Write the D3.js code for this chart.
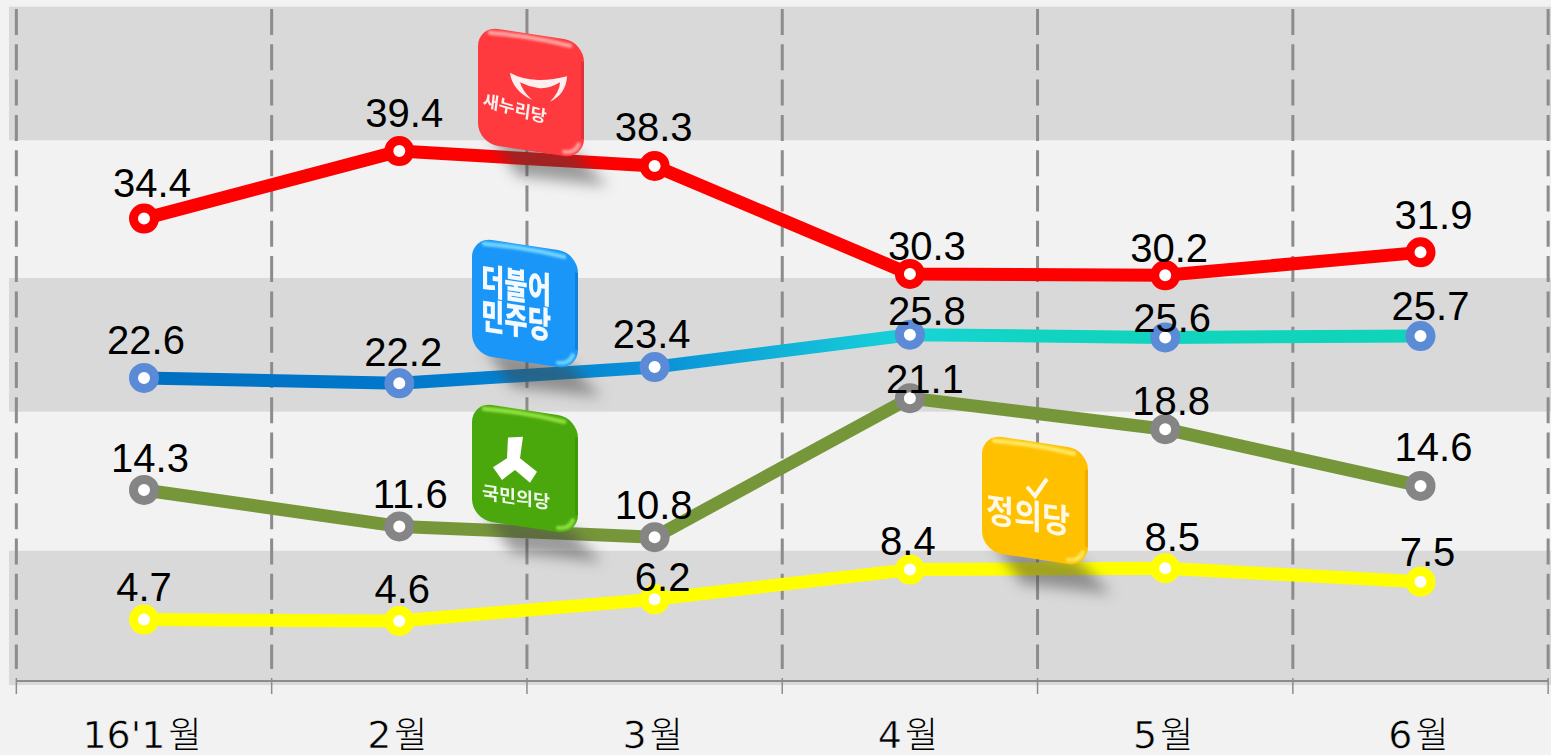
<!DOCTYPE html>
<html><head><meta charset="utf-8">
<script src="https://cdn.jsdelivr.net/npm/d3@7"></script>
<style>html,body{margin:0;padding:0;background:#f2f2f2;overflow:hidden}svg{display:block}</style></head>
<body><div id="c"></div>
<script>
const months = ["16'1","2","3","4","5","6"];
const saenuri = [34.4,39.4,38.3,30.3,30.2,31.9];
const minju = [22.6,22.2,23.4,25.8,25.6,25.7];
const kukmin = [14.3,11.6,10.8,21.1,18.8,14.6];
const jeongui = [4.7,4.6,6.2,8.4,8.5,7.5];
const bandEdges = [50.1,40.2,30,20.1,9.8,-0.15];
const W=1551,H=755;
const svg=d3.select("#c").append("svg").attr("width",W).attr("height",H);
const x=d3.scalePoint().domain(months).range([144,1420.5]);
const step=x.step();
const y=d3.scaleLinear().domain([0,50]).range([683,8]);
const defs=svg.append("defs");
const f=defs.append("filter").attr("id","blur").attr("filterUnits","userSpaceOnUse").attr("x",0).attr("y",0).attr("width",W).attr("height",H);
f.append("feGaussianBlur").attr("stdDeviation",7);
const f2=defs.append("filter").attr("id","soft").attr("filterUnits","userSpaceOnUse").attr("x",-50).attr("y",-50).attr("width",300).attr("height",300);
f2.append("feGaussianBlur").attr("stdDeviation",1);
const g1=defs.append("linearGradient").attr("id","mj").attr("gradientUnits","userSpaceOnUse")
 .attr("x1",x(months[0])).attr("x2",x(months[5])).attr("y1",0).attr("y2",0);
[[0,"#0070c0"],[0.2,"#0078cc"],[0.4,"#0a90d8"],[0.6,"#18d4d8"],[0.7,"#10d4c0"],[1,"#10d4b8"]].forEach(s=>g1.append("stop").attr("offset",s[0]).attr("stop-color",s[1]));

// bands
for(let i=0;i<bandEdges.length-1;i+=2){
 svg.append("rect").attr("x",9).attr("width",W-9).attr("y",y(bandEdges[i])).attr("height",y(bandEdges[i+1])-y(bandEdges[i])).attr("fill","#d9d9d9");
}
// grid
const edges=[...months.map(m=>x(m)-step/2),x(months[5])+step/2];
svg.selectAll("line.g").data(edges).join("line").attr("class","g")
 .attr("x1",d=>d).attr("x2",d=>d).attr("y1",9).attr("y2",669)
 .attr("stroke","#8c8c8c").attr("stroke-width",3).attr("stroke-dasharray","26 9.3");
// axis
svg.append("line").attr("x1",edges[0]).attr("x2",edges[6]).attr("y1",681).attr("y2",681).attr("stroke","#8c8c8c").attr("stroke-width",2);
svg.selectAll("line.t").data(edges).join("line").attr("class","t")
 .attr("x1",d=>d).attr("x2",d=>d).attr("y1",678).attr("y2",694).attr("stroke","#8c8c8c").attr("stroke-width",1.5);
// x labels
const xl=svg.selectAll("text.x").data(months).join("text").attr("class","x")
 .attr("x",d=>x(d)-2).attr("y",748).attr("text-anchor","middle").attr("fill","#000")
 .style("font-family","'DejaVu Sans','Noto Sans CJK KR'").style("font-size","38px");
xl.append("tspan").attr("stroke","#f2f2f2").attr("stroke-width",0.6).text(d=>d);
xl.append("tspan").attr("dx",3).style("font-family","'Noto Sans CJK KR'").style("font-weight",300).style("font-size","36px").text("월");

const line=d3.line().x((d,i)=>x(months[i])).y(d=>y(d));
const series=[
 {v:saenuri,c:"#ff0000",m:"#ff0000",dx:[8,5,-1,17,4,13],dy:[-22,-24,-25,-14,-13,-23]},
 {v:minju,c:"url(#mj)",m:"#5b8bd6",dx:[2,4,-3,17,7,10],dy:[-24,-17,-19,-10,-5,-16]},
 {v:kukmin,c:"#76963a",m:"#858585",dx:[6,11,-1,15,6,13],dy:[-18,-18,-18,-5,-14,-25]},
 {v:jeongui,c:"#ffff00",m:"#ffff00",dx:[0,3,8,-2,7,7],dy:[-19,-18,-8,-15,-17,-16]}
];
series.forEach(s=>{
 svg.append("path").attr("d",line(s.v)).attr("fill","none").attr("stroke",s.c).attr("stroke-width",13).attr("stroke-linejoin","round");
});
series.forEach(s=>{
 svg.append("g").selectAll("circle").data(s.v).join("circle").attr("cx",(d,i)=>x(months[i])).attr("cy",d=>y(d)).attr("r",10.5)
  .attr("fill","#fff").attr("stroke",s.m).attr("stroke-width",9);
});
series.forEach(s=>{
 svg.append("g").selectAll("text").data(s.v).join("text")
  .attr("x",(d,i)=>x(months[i])+s.dx[i]).attr("y",(d,i)=>y(d)+s.dy[i])
  .attr("text-anchor","middle").attr("fill","#000")
  .style("font-family","'Liberation Sans'").style("font-size","40px")
  .text(d=>d.toFixed(1));
});

// logos
const logos=[
 {x:478,y:26,c:"#ff3a3e",hi:"#ffa0a0",dark:"#e03038"},
 {x:472,y:237,c:"#1a96f8",hi:"#70d4ff",dark:"#1080e0"},
 {x:472,y:402,c:"#4aa80c",hi:"#90e040",dark:"#3f9808"},
 {x:982,y:434,c:"#ffc000",hi:"#ffe860",dark:"#f0ac00"}
];
const LW=106,LH=117,SK=0.15;
function logoGroup(l){
 const dx=l.x,dy=l.y;
 svg.append("path").attr("d",d3.line()([[dx+12,dy+110],[dx+95,dy+125],[dx+130,dy+160],[dx+40,dy+150]])+"Z")
  .attr("fill","#444").attr("opacity",0.5).attr("filter","url(#blur)");
 const g=svg.append("g").attr("transform",`translate(${dx},${dy}) matrix(1,${SK},0,1,0,0)`);
 g.append("rect").attr("width",LW).attr("height",LH).attr("rx",20).attr("fill",l.c);
 g.append("path").attr("d",`M12 5 Q${LW/2} 2 ${LW-14} 6`).attr("fill","none").attr("stroke",l.hi).attr("stroke-width",4.5).attr("stroke-linecap","round").attr("filter","url(#soft)");
 g.append("path").attr("d",`M${LW-20} ${LH-4} Q${LW-9} ${LH-4} ${LW-5} ${LH-14}`).attr("fill","none").attr("stroke",l.hi).attr("stroke-width",4).attr("stroke-linecap","round").attr("filter","url(#soft)");
 g.append("rect").attr("x",LW-3).attr("y",20).attr("width",3).attr("height",LH-40).attr("fill",l.dark);
 return g;
}
const tx=(g,t,px,py,sz,w,len)=>g.append("text").attr("x",px).attr("y",py).attr("text-anchor","middle").attr("fill","#fff")
 .attr("textLength",len).attr("lengthAdjust","spacingAndGlyphs")
 .style("font-family","'Noto Sans CJK KR'").style("font-size",sz+"px").style("font-weight",w).text(t);
let g=logoGroup(logos[0]);
g.append("g").attr("transform","translate(0,3)").append("path").attr("d","M32 39 Q44 44 60 42 Q75 40 89 34 Q88 52 72 62 Q82 50 82 41 Q70 50 60 50 Q50 50 42 47 Q44 55 54 63 Q34 56 32 39Z").attr("fill","#fff").attr("opacity",0.92);
tx(g,"새누리당",36,83,17,700,64).attr("transform","rotate(7 36 83)").attr("opacity",0.92);
g=logoGroup(logos[1]);
tx(g,"더불어",44,55,36,900,70).attr("opacity",0.95);
tx(g,"민주당",44,90,36,900,70).attr("opacity",0.95);
g=logoGroup(logos[2]);
g.append("g").attr("transform","translate(0,3)").append("path").attr("d","M36 27 L51 24 L48 46 L65 57 L58 69 L43 58.5 L30 70.5 L21 59 L35 48Z").attr("fill","#fff");
tx(g,"국민의당",44,95,18,700,68).attr("opacity",0.92);
g=logoGroup(logos[3]);
g.append("g").attr("transform","translate(0,2)").append("path").attr("d","M45 44 L53 52 L65 33").attr("fill","none").attr("stroke","#fff").attr("stroke-width",4).attr("opacity",0.9);
tx(g,"정의당",46,87,34,700,84).attr("opacity",0.9);
</script></body></html>
